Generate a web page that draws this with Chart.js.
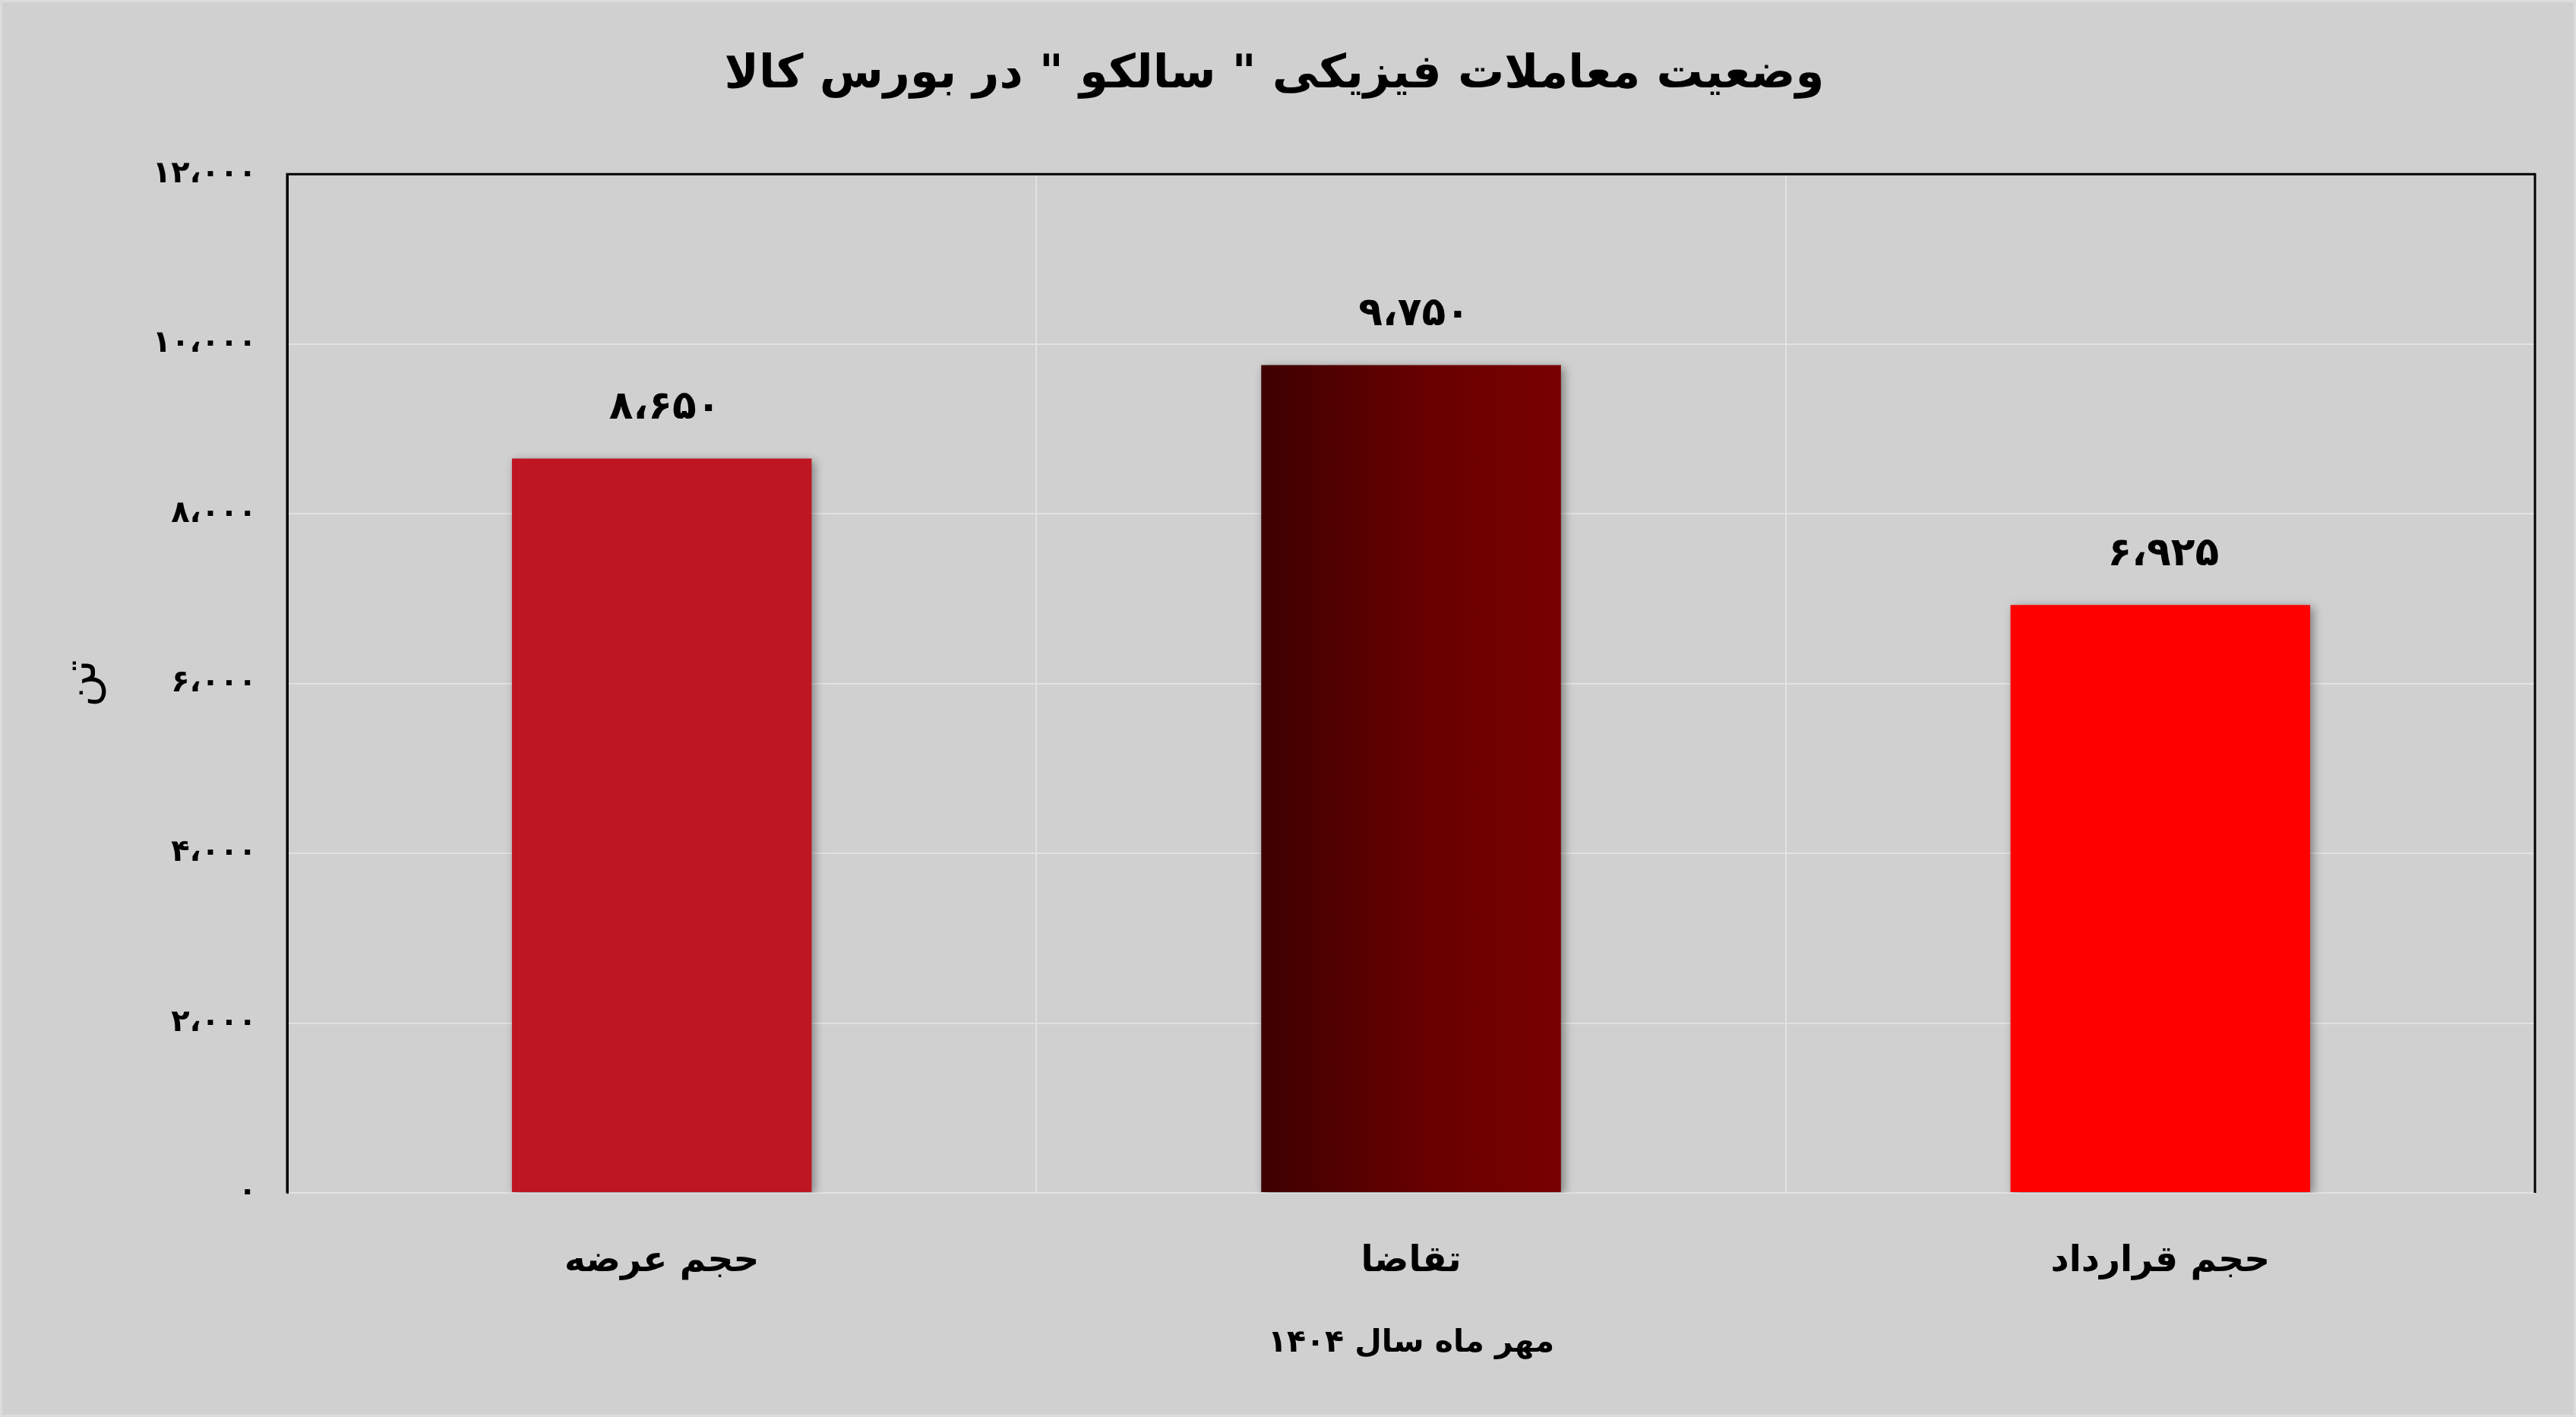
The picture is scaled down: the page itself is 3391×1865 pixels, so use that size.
<!DOCTYPE html>
<html>
<head>
<meta charset="utf-8">
<script src="https://cdn.jsdelivr.net/npm/chart.js@4/dist/chart.umd.min.js"></script>
<style>
  html, body { margin: 0; padding: 0; background: #d0d0d0; overflow: hidden; }
  canvas { display: block; }
</style>
</head>
<body>
<canvas id="c" width="3391" height="1865"></canvas>
<script>
// ---- data ----
const categories = ['حجم عرضه', 'تقاضا', 'حجم قرارداد'];
const values = [8650, 9750, 6925];
const valueLabels = ['۸،۶۵۰', '۹،۷۵۰', '۶،۹۲۵'];
const yTickValues = [0, 2000, 4000, 6000, 8000, 10000, 12000];
const yTickLabels = ['۰', '۲،۰۰۰', '۴،۰۰۰', '۶،۰۰۰', '۸،۰۰۰', '۱۰،۰۰۰', '۱۲،۰۰۰'];
const chartTitle = 'وضعیت معاملات فیزیکی " سالکو " در بورس کالا';
const xTitle = 'مهر ماه سال ۱۴۰۴';
const yTitle = 'تن';

const FONT = "'DejaVu Sans', sans-serif";
const BAR_PCT = 0.4;

function barColor(ctx) {
  const i = ctx.dataIndex;
  if (i === 0) return '#be1622';
  if (i === 2) return '#ff0000';
  const chart = ctx.chart;
  const xs = chart.scales && chart.scales.x;
  if (!xs || !chart.chartArea) return '#600000';
  const cx = xs.getPixelForValue(i);
  const w = (xs.width / categories.length) * BAR_PCT;
  const g = chart.ctx.createLinearGradient(cx - w / 2, 0, cx + w / 2, 0);
  g.addColorStop(0, '#3e0000');
  g.addColorStop(0.55, '#680000');
  g.addColorStop(1, '#780000');
  return g;
}

const bgPlugin = {
  id: 'bg',
  beforeDraw(chart) {
    const c = chart.ctx;
    c.save();
    c.fillStyle = '#d0d0d0';
    c.fillRect(0, 0, chart.width, chart.height);
    c.strokeStyle = '#dcdcdc';
    c.lineWidth = 6;
    c.strokeRect(0, 0, chart.width, chart.height);
    c.restore();
  },
  afterDraw(chart) {
    chart.ctx.letterSpacing = '0px';
  }
};

const shadowPlugin = {
  id: 'barShadow',
  beforeDatasetsDraw(chart) {
    const c = chart.ctx;
    c.save();
    c.shadowColor = 'rgba(0,0,0,0.4)';
    c.shadowBlur = 12;
    c.shadowOffsetX = 4;
    c.shadowOffsetY = 3;
  },
  afterDatasetsDraw(chart) {
    chart.ctx.restore();
    const c = chart.ctx;
    const a = chart.chartArea;
    // frame: top, left, right
    c.save();
    c.strokeStyle = '#000';
    c.lineWidth = 3;
    c.beginPath();
    c.moveTo(a.left, a.bottom);
    c.lineTo(a.left, a.top);
    c.lineTo(a.right, a.top);
    c.lineTo(a.right, a.bottom);
    c.stroke();
    // value labels
    const meta = chart.getDatasetMeta(0);
    c.fillStyle = '#000';
    c.font = "bold 52px " + FONT;
    c.letterSpacing = '9px';
    c.textAlign = 'center';
    c.textBaseline = 'middle';
    meta.data.forEach((bar, i) => {
      c.fillText(valueLabels[i], bar.x + 4, bar.y - 66);
    });
    c.restore();
    // digits of the y ticks (drawn after datasets, z:1) are spaced out
    c.letterSpacing = '11px';
  }
};

new Chart(document.getElementById('c'), {
  type: 'bar',
  data: {
    labels: categories,
    datasets: [{
      data: values,
      backgroundColor: barColor,
      borderWidth: 0,
      categoryPercentage: 0.8,
      barPercentage: 0.5
    }]
  },
  options: {
    responsive: false,
    animation: false,
    devicePixelRatio: 1,
    layout: { padding: { left: 18, right: 54, top: 0, bottom: 0 } },
    plugins: {
      legend: { display: false },
      tooltip: { enabled: false },
      title: {
        display: true,
        text: chartTitle,
        color: '#000',
        font: { family: FONT, size: 61, weight: 'bold', lineHeight: 1.2 },
        padding: { top: 63, bottom: 93 }
      }
    },
    scales: {
      x: {
        grid: { color: '#e2e2e2', lineWidth: 2, offset: true, drawTicks: false },
        border: { display: false },
        ticks: {
          color: '#000',
          font: { family: FONT, size: 47, weight: 'bold', lineHeight: 1.2 },
          padding: 63
        },
        title: {
          display: true,
          text: xTitle,
          color: '#000',
          font: { family: FONT, size: 41, weight: 'bold', lineHeight: 1.2 },
          padding: { top: 0, bottom: 72 }
        },
        afterFit(s) { s.height = 295; }
      },
      y: {
        min: 0,
        max: 12000,
        afterBuildTicks(s) { s.ticks = yTickValues.map(v => ({ value: v })); },
        grid: { color: '#e2e2e2', lineWidth: 2, drawTicks: false },
        border: { display: true, color: '#000', width: 3 },
        ticks: {
          color: '#000',
          z: 1,
          font: { family: FONT, size: 40, weight: 'bold' },
          padding: 40,
          callback(value, index) { return yTickLabels[index]; }
        },
        title: {
          display: true,
          text: yTitle,
          color: '#000',
          font: { family: FONT, size: 60, weight: 'normal', lineHeight: 1.2 },
          padding: { top: 55, bottom: 0 }
        },
        afterFit(s) { s.width = 360; }
      }
    }
  },
  plugins: [bgPlugin, shadowPlugin]
});
</script>
</body>
</html>
